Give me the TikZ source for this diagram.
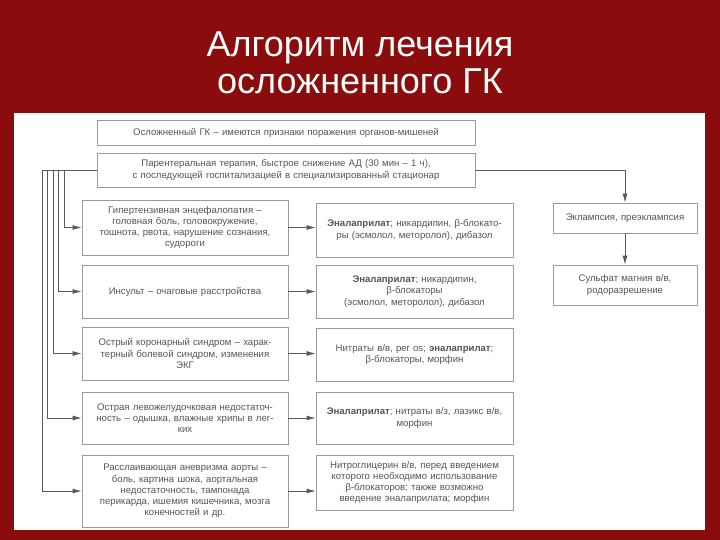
\documentclass[tikz,border=0pt]{standalone}
\usepackage{fontspec}
\setmainfont{Liberation Sans}
\usetikzlibrary{arrows.meta}
\definecolor{bg}{HTML}{8A0C0C}
\definecolor{bx}{HTML}{9A9A9A}
\definecolor{tx}{HTML}{555555}
\begin{document}
\begin{tikzpicture}[x=1pt,y=-1pt,
  bx/.style={draw=bx,line width=0.8pt,fill=white,text=tx,align=center,font=\fontsize{9.6}{11.2}\selectfont,inner sep=1pt},
  ar/.style={draw=black!65,line width=0.8pt,-{Latex[length=9pt,width=5pt]}},
  ln/.style={draw=black!65,line width=0.8pt}]
\fill[bg] (0,0) rectangle (720,540);
\fill[white] (14,113) rectangle (705,530);
\node[text=white,font=\fontsize{36}{37}\selectfont,align=center] (title) at (360,63) {Алгоритм лечения\\осложненного ГК};
\newcommand{\bxat}[6]{\node[bx,minimum width=#4-#2,minimum height=#5-#3,text width=#4-#2-6] (#1) at ({(#2+#4)/2},{(#3+#5)/2}) {#6};}
\bxat{top}{97}{120}{475}{145}{Осложненный ГК – имеются признаки поражения органов-мишеней}
\bxat{par}{97}{153}{475}{187}{Парентеральная терапия, быстрое снижение АД (30 мин – 1 ч),\\с последующей госпитализацией в специализированный стационар}
\bxat{l1}{82}{200}{288}{255}{Гипертензивная энцефалопатия –\\головная боль, головокружение,\\тошнота, рвота, нарушение сознания,\\судороги}
\bxat{l2}{82}{265}{288}{318}{Инсульт – очаговые расстройства}
\bxat{l3}{82}{327}{288}{380}{Острый коронарный синдром – харак-\\терный болевой синдром, изменения\\ЭКГ}
\bxat{l4}{82}{392}{288}{444}{Острая левожелудочковая недостаточ-\\ность – одышка, влажные хрипы в лег-\\ких}
\bxat{l5}{82}{455}{288}{527}{Расслаивающая аневризма аорты –\\боль, картина шока, аортальная\\недостаточность, тампонада\\перикарда, ишемия кишечника, мозга\\конечностей и др.}
\bxat{m1}{316}{203}{513}{257}{\textbf{Эналаприлат}; никардипин, β-блокато-\\ры (эсмолол, метоpолол), дибазол}
\bxat{m2}{316}{265}{513}{318}{\textbf{Эналаприлат}; никардипин,\\β-блокаторы\\(эсмолол, метоpолол), дибазол}
\bxat{m3}{316}{328}{513}{381}{Нитраты в/в, per os; \textbf{эналаприлат};\\β-блокаторы, морфин}
\bxat{m4}{316}{392}{513}{444}{\textbf{Эналаприлат}; нитраты в/з, лазикс в/в,\\морфин}
\bxat{m5}{316}{455}{513}{510}{Нитроглицерин в/в, перед введением\\которого необходимо использование\\β-блокаторов; также возможно\\введение эналаприлата; морфин}
\bxat{r1}{553}{203}{697}{233}{Эклампсия, преэклампсия}
\bxat{r2}{553}{265}{697}{305}{Сульфат магния в/в,\\родоразрешение}
\coordinate (b0) at (42,170);
\draw[ln] (par.west) -- (b0);
\foreach \i/\x in {1/64,2/58,3/53,4/47,5/42}{
  \draw[ar] (\x,170) |- (l\i.west);
  \draw[ar] (l\i.east) -- (m\i.west |- l\i.east);
}
\draw[ar] (par.east) -| (r1.north);
\draw[ar] (r1.south) -- (r2.north);
\end{tikzpicture}
\end{document}
